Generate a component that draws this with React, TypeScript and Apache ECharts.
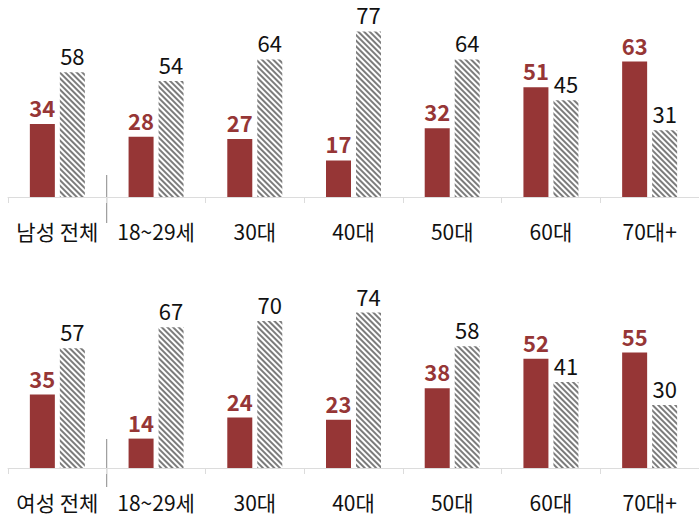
import React, { useEffect, useRef } from "react";
import * as echarts from "echarts";

const categoriesMale = ["남성 전체", "18~29세", "30대", "40대", "50대", "60대", "70대+"];
const categoriesFemale = ["여성 전체", "18~29세", "30대", "40대", "50대", "60대", "70대+"];
const maleRed = [34, 28, 27, 17, 32, 51, 63];
const maleGray = [58, 54, 64, 77, 64, 45, 31];
const femaleRed = [35, 14, 24, 23, 38, 52, 55];
const femaleGray = [57, 67, 70, 74, 58, 41, 30];

const RED = "#963636";
const FONT = "Noto Sans CJK KR";

const GRID_LEFT = 8;
const GRID_W = 691;
const TOP1 = 25, H1 = 172;
const TOP2 = 300, H2 = 168;

export default function App() {
  const ref = useRef<HTMLDivElement>(null);
  useEffect(() => {
    if (!ref.current) return;
    const chart = echarts.init(ref.current, undefined, { renderer: "svg" });
    const decal = {
      symbol: "rect",
      symbolSize: 1,
      dashArrayX: [1, 0],
      dashArrayY: [1.5, 1.8],
      rotation: Math.PI / 4,
      color: "#7c7c7c",
      backgroundColor: "#ffffff",
    };
    const xAxisCommon = {
      type: "category",
      axisLine: { show: true, lineStyle: { color: "#dcdcdc", width: 1 } },
      axisTick: { show: true, length: 6, lineStyle: { color: "#dcdcdc" } },
      axisLabel: {
        color: "#111", fontFamily: FONT, fontSize: 21, margin: 22, lineHeight: 24,
        interval: 0, hideOverlap: false,
      },
    };
    const yAxisCommon = { type: "value", min: 0, max: 80, show: false };
    const redLabel = {
      show: true,
      position: "top",
      distance: 6,
      color: RED,
      fontWeight: "bold",
      fontSize: 22,
      lineHeight: 22,
      fontFamily: FONT,
    };
    const grayLabel = {
      show: true,
      position: "top",
      distance: 6,
      color: "#111",
      fontSize: 22,
      lineHeight: 22,
      fontFamily: FONT,
    };
    const catW = GRID_W / 7;
    const sepX = GRID_LEFT + catW;
    chart.setOption({
      animation: false,
      grid: [
        { left: GRID_LEFT, width: GRID_W, top: TOP1, height: H1 },
        { left: GRID_LEFT, width: GRID_W, top: TOP2, height: H2 },
      ],
      xAxis: [
        { ...xAxisCommon, gridIndex: 0, data: categoriesMale },
        { ...xAxisCommon, gridIndex: 1, data: categoriesFemale },
      ],
      yAxis: [
        { ...yAxisCommon, gridIndex: 0 },
        { ...yAxisCommon, gridIndex: 1 },
      ],
      series: [
        {
          type: "bar", xAxisIndex: 0, yAxisIndex: 0, data: maleRed,
          barWidth: 25, barGap: "20%",
          itemStyle: { color: RED }, label: redLabel,
        },
        {
          type: "bar", xAxisIndex: 0, yAxisIndex: 0, data: maleGray,
          barWidth: 25, barGap: "20%",
          itemStyle: { color: "#ffffff", decal }, label: grayLabel,
        },
        {
          type: "bar", xAxisIndex: 1, yAxisIndex: 1, data: femaleRed,
          barWidth: 25, barGap: "20%",
          itemStyle: { color: RED }, label: redLabel,
        },
        {
          type: "bar", xAxisIndex: 1, yAxisIndex: 1, data: femaleGray,
          barWidth: 25, barGap: "20%",
          itemStyle: { color: "#ffffff", decal }, label: grayLabel,
        },
      ],
      graphic: [
        {
          type: "line",
          shape: { x1: sepX, y1: TOP1 + H1 - 22, x2: sepX, y2: TOP1 + H1 + 26 },
          style: { stroke: "#888", lineWidth: 1 },
        },
        {
          type: "line",
          shape: { x1: sepX, y1: TOP2 + H2 - 29, x2: sepX, y2: TOP2 + H2 + 19 },
          style: { stroke: "#888", lineWidth: 1 },
        },
      ],
    });
    return () => chart.dispose();
  }, []);
  return (
    <div
      ref={ref}
      style={{ position: "fixed", left: 0, top: 0, width: 699, height: 520, background: "#fff" }}
    />
  );
}
